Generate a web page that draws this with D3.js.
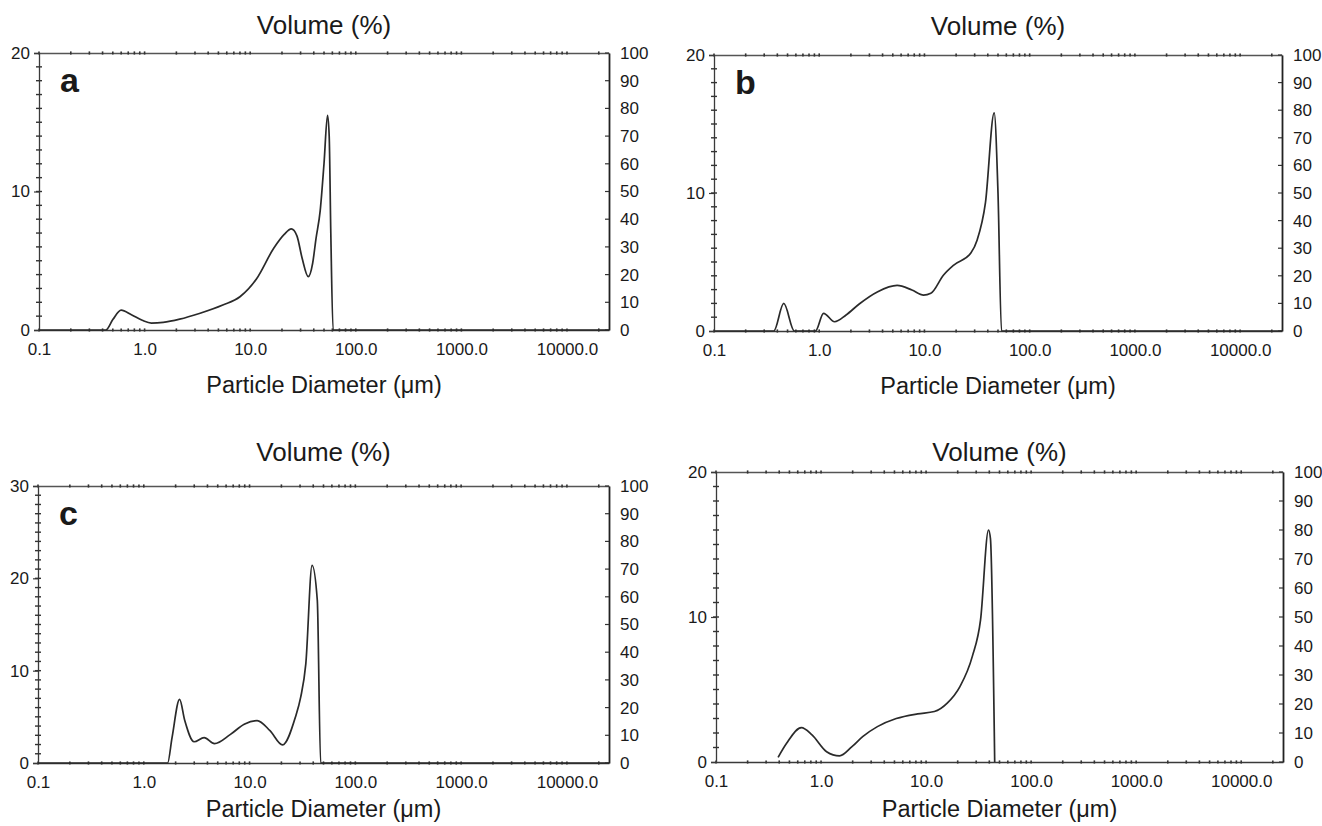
<!DOCTYPE html>
<html><head><meta charset="utf-8">
<script src="https://cdn.jsdelivr.net/npm/d3@7"></script>
<style>
body{margin:0;background:#fff;}
svg text{font-family:"Liberation Sans",Arial,Helvetica,sans-serif;fill:#1a1a1a;}
</style>
</head><body>
<svg id="chart" width="1322" height="826"></svg>
<script>
// ---- data ----
const xTickValues = [0.1, 1, 10, 100, 1000, 10000];
const xTickLabels = ["0.1", "1.0", "10.0", "100.0", "1000.0", "10000.0"];
const rightTickValues = [0, 10, 20, 30, 40, 50, 60, 70, 80, 90, 100];
const leftTicks20 = [0, 10, 20];
const leftTicks30 = [0, 10, 20, 30];
const yTitle = "Volume (%)";
const xTitle = "Particle Diameter (\u03bcm)";

const aDiameter = [0.1, 0.43, 0.5, 0.6, 0.75, 0.95, 1.16, 1.5, 2.15, 3.3, 5.5, 8, 11.5, 16.7, 21, 24.5, 27.7, 31, 35.5, 39, 42, 46, 50, 54, 56, 58, 61, 25000];
const aVolume   = [0, 0, 0.75, 1.43, 1.1, 0.7, 0.5, 0.55, 0.78, 1.19, 1.8, 2.4, 3.7, 5.9, 6.9, 7.3, 6.8, 5.2, 3.85, 4.8, 6.6, 8.6, 12, 15.5, 14, 7, 0, 0];

const bDiameter = [0.1, 0.37, 0.46, 0.58, 0.92, 1.1, 1.4, 1.8, 2.4, 3.6, 5.5, 7.6, 9.8, 11.5, 15.2, 19, 27.6, 31.7, 38, 46, 50, 54, 25000];
const bVolume   = [0, 0, 2.0, 0, 0, 1.28, 0.67, 1.16, 1.96, 2.85, 3.3, 2.97, 2.6, 2.73, 4.06, 4.78, 5.65, 6.6, 9.3, 15.8, 10, 0, 0];

const cDiameter = [0.1, 1.68, 1.85, 2.18, 2.44, 2.99, 3.72, 4.66, 6.6, 8.9, 11.8, 15.6, 20.5, 27, 30.4, 34, 39, 43.7, 47, 25000];
const cVolume   = [0, 0, 2.75, 6.9, 4.6, 2.3, 2.75, 2.1, 3.1, 4.2, 4.6, 3.5, 1.96, 4.9, 7.1, 10.7, 21.4, 17.6, 0, 0];

const dDiameter = [0.39, 0.47, 0.65, 0.82, 1.13, 1.5, 1.97, 2.49, 3.44, 5.2, 8.3, 12, 15.9, 21, 27.6, 33, 39.3, 41, 45];
const dVolume   = [0.32, 1.29, 2.37, 1.87, 0.71, 0.42, 1.06, 1.75, 2.44, 3.0, 3.32, 3.48, 4.06, 5.2, 7.3, 9.8, 16.0, 15.4, 0];

// ---- layout ----
const panels = [
  {letter: "a", xs: aDiameter, ys: aVolume, left: 39, right: 609, top: 53, bottom: 330, ymax: 20, leftTicks: leftTicks20, volY: 34, labY: 393},
  {letter: "b", xs: bDiameter, ys: bVolume, left: 714, right: 1282, top: 55, bottom: 331, ymax: 20, leftTicks: leftTicks20, volY: 35, labY: 394},
  {letter: "c", xs: cDiameter, ys: cVolume, left: 38, right: 609, top: 486, bottom: 763, ymax: 30, leftTicks: leftTicks30, volY: 461, labY: 817},
  {letter: "",  xs: dDiameter, ys: dVolume, left: 716, right: 1283, top: 472, bottom: 762, ymax: 20, leftTicks: leftTicks20, volY: 461, labY: 817}
];

const svg = d3.select("#chart");
const axisColor = "#3a3a3a";

// minor log positions
function minorTicks(maxV) {
  const out = [];
  for (let e = -1; e <= 4; e++) {
    for (let m = 1; m <= 9; m++) {
      const v = m * Math.pow(10, e);
      if (v >= 0.1 && v <= maxV) out.push(v);
    }
  }
  return out;
}

panels.forEach(p => {
  const g = svg.append("g");
  const x = d3.scaleLog().domain([0.1, 25000]).range([p.left, p.right]);
  const y = d3.scaleLinear().domain([0, p.ymax]).range([p.bottom, p.top]);
  const yR = d3.scaleLinear().domain([0, 100]).range([p.bottom, p.top]);
  const cx = (p.left + p.right) / 2;

  // titles
  g.append("text").attr("x", cx).attr("y", p.volY).attr("text-anchor", "middle")
    .style("font-size", "26px").text(yTitle);
  g.append("text").attr("x", cx).attr("y", p.labY).attr("text-anchor", "middle")
    .style("font-size", "23.5px").text(xTitle);

  const mt = minorTicks(25000);

  // bottom axis
  const bottomAxis = d3.axisBottom(x).tickValues(xTickValues)
    .tickFormat((d, i) => xTickLabels[i]).tickSize(0).tickPadding(10);
  const gb = g.append("g").attr("transform", `translate(0,${p.bottom})`).call(bottomAxis);
  gb.select(".domain").attr("stroke", axisColor).attr("stroke-width", 1.3);
  gb.selectAll("text").style("font-size", "17px").attr("dy", "0.9em").attr("fill", "#1a1a1a");
  gb.selectAll(".mt").data(mt).enter().append("line").attr("class", "mt")
    .attr("x1", d => x(d)).attr("x2", d => x(d)).attr("y1", -1.6).attr("y2", 1.6)
    .attr("stroke", "#333").attr("stroke-width", 1.6);

  // top axis
  const topAxis = d3.axisTop(x).tickValues([]).tickSize(0);
  const gt = g.append("g").attr("transform", `translate(0,${p.top})`).call(topAxis);
  gt.select(".domain").attr("stroke", "#555").attr("stroke-width", 1.3);
  gt.selectAll(".mt").data(mt).enter().append("line").attr("class", "mt")
    .attr("x1", d => x(d)).attr("x2", d => x(d)).attr("y1", -1.6).attr("y2", 1.6)
    .attr("stroke", "#333").attr("stroke-width", 1.6);

  // left axis
  const leftAxis = d3.axisLeft(y).tickValues(p.leftTicks).tickSize(5).tickPadding(4);
  const gl = g.append("g").attr("transform", `translate(${p.left},0)`).call(leftAxis);
  gl.select(".domain").attr("stroke", axisColor).attr("stroke-width", 1.3);
  gl.selectAll(".tick line").attr("stroke", axisColor).attr("stroke-width", 1.2);
  gl.selectAll("text").style("font-size", "17px").attr("fill", "#1a1a1a");
  gl.selectAll(".mn").data(d3.range(1, p.ymax)).enter().append("line").attr("class", "mn")
    .attr("x1", -3).attr("x2", 3).attr("y1", d => y(d)).attr("y2", d => y(d))
    .attr("stroke", "#333").attr("stroke-width", 1.4);

  // right axis
  const rightAxis = d3.axisRight(yR).tickValues(rightTickValues).tickSize(0).tickPadding(11);
  const gr = g.append("g").attr("transform", `translate(${p.right},0)`).call(rightAxis);
  gr.select(".domain").attr("stroke", "#222").attr("stroke-width", 1.8);
  gr.selectAll("text").style("font-size", "17px").attr("fill", "#1a1a1a");
  gr.selectAll(".rt").data(rightTickValues).enter().append("line").attr("class", "rt")
    .attr("x1", -4).attr("x2", 0).attr("y1", d => yR(d)).attr("y2", d => yR(d))
    .attr("stroke", "#333").attr("stroke-width", 1.2);

  // panel letter
  if (p.letter) {
    g.append("text").attr("x", p.left + 21).attr("y", p.top + 39)
      .style("font-size", "34px").style("font-weight", "bold").text(p.letter);
  }

  // curve
  const pts = p.xs.map((d, i) => [d, p.ys[i]]);
  const line = d3.line().x(d => x(d[0])).y(d => y(d[1])).curve(d3.curveMonotoneX);
  g.append("path").datum(pts).attr("d", line).attr("fill", "none")
    .attr("stroke", "#2a2a2a").attr("stroke-width", 1.7).attr("stroke-linejoin", "round");
});
</script>
</body></html>
